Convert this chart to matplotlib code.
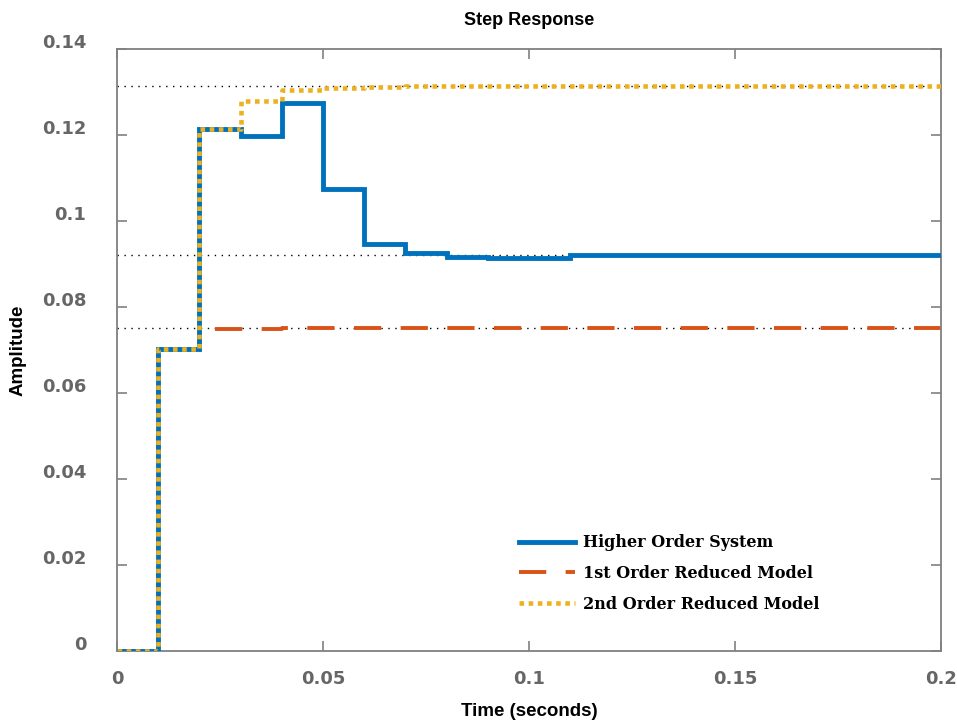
import numpy as np
import matplotlib
matplotlib.use("Agg")
import matplotlib.pyplot as plt
import matplotlib.transforms as mtransforms

# discrete step responses, sampled every 0.01 s
t = np.round(np.arange(0, 0.2001, 0.01), 2)

y_high = [0.0, 0.0702, 0.1214, 0.1198, 0.1274, 0.1074, 0.0946, 0.0925,
          0.0916, 0.0913, 0.0915, 0.0920, 0.0922, 0.0922, 0.0922, 0.0922,
          0.0922, 0.0922, 0.0922, 0.0922, 0.0922]
y_first = [0.0, 0.0702, 0.0750, 0.0748, 0.0751, 0.0752, 0.0752, 0.0752,
           0.0752, 0.0752, 0.0752, 0.0752, 0.0752, 0.0752, 0.0752, 0.0752,
           0.0752, 0.0752, 0.0752, 0.0752, 0.0752]
y_second = [0.0, 0.0702, 0.1213, 0.1280, 0.1304, 0.1309, 0.1312, 0.1314,
            0.1315, 0.1315, 0.1315, 0.1315, 0.1315, 0.1315, 0.1315, 0.1315,
            0.1315, 0.1315, 0.1315, 0.1315, 0.1315]
final_vals = [0.1315, 0.0922, 0.0752]

labels = ["Higher Order System", "1st Order Reduced Model", "2nd Order Reduced Model"]
xticks = [0, 0.05, 0.1, 0.15, 0.2]
xtick_labels = ["0", "0.05", "0.1", "0.15", "0.2"]
yticks = [0, 0.02, 0.04, 0.06, 0.08, 0.1, 0.12, 0.14]
ytick_labels = ["0", "0.02", "0.04", "0.06", "0.08", "0.1", "0.12", "0.14"]

blue = "#0072BD"
orange = "#D95319"
yellow = "#EDB120"
gray = "#666666"

fig = plt.figure(figsize=(9.57, 7.25), dpi=100)
ax = fig.add_axes([117 / 957, 1 - 651 / 725, 824 / 957, 602 / 725])

# steady-state reference lines
for v in final_vals:
    ax.axhline(v, color="black", lw=1.0, ls=(0, (1, 4)), zorder=1)

h1, = ax.plot(t, y_high, drawstyle="steps-post", color=blue, lw=3.5,
              solid_joinstyle="miter", zorder=3)
h2, = ax.plot(t, y_first, drawstyle="steps-post", color=orange, lw=2.8,
              ls=(0, (7, 5)), dash_capstyle="butt", zorder=2)
h3, = ax.plot(t, y_second, drawstyle="steps-post", color=yellow, lw=3.3,
              ls=(0, (1, 1.0)), dash_capstyle="butt", zorder=4)

ax.set_xlim(0, 0.2)
ax.set_ylim(0, 0.14)
ax.set_xticks(xticks)
ax.set_xticklabels(xtick_labels)
ax.set_yticks(yticks)
ax.set_yticklabels(ytick_labels)

ax.tick_params(direction="in", length=7, width=1.2, color="#808080",
               top=True, right=True, labelsize=13, labelcolor=gray)
ax.tick_params(axis="y", pad=22)
ax.tick_params(axis="x", pad=14)
for lab in ax.get_xticklabels() + ax.get_yticklabels():
    lab.set_fontweight("bold")
    lab.set_family("DejaVu Sans")
# y tick labels sit slightly above their ticks
shift = mtransforms.ScaledTranslation(0, 8 / 100, fig.dpi_scale_trans)
for lab in ax.get_yticklabels():
    lab.set_transform(lab.get_transform() + shift)

for sp in ax.spines.values():
    sp.set_color("#808080")
    sp.set_linewidth(1.3)

ax.set_title("Step Response", fontsize=13, fontweight="bold",
             family="Liberation Sans", pad=17)
ax.set_xlabel("Time (seconds)", fontsize=13.5, fontweight="bold",
              family="Liberation Sans", va="center")
ax.set_ylabel("Amplitude", fontsize=13.5, fontweight="bold",
              family="Liberation Sans", va="center")
ax.xaxis.set_label_coords(0.5, (651 - 712) / 602)
ax.yaxis.set_label_coords((18 - 117) / 824, 0.5)

leg = ax.legend([h1, h2, h3], labels, loc="lower left",
                bbox_to_anchor=(0.47, 0.04), frameon=False,
                prop={"family": "DejaVu Serif", "weight": "bold", "size": 11.5},
                handlelength=3.5, labelspacing=0.85, handletextpad=0.5)

fig.savefig("out.png", dpi=100)
